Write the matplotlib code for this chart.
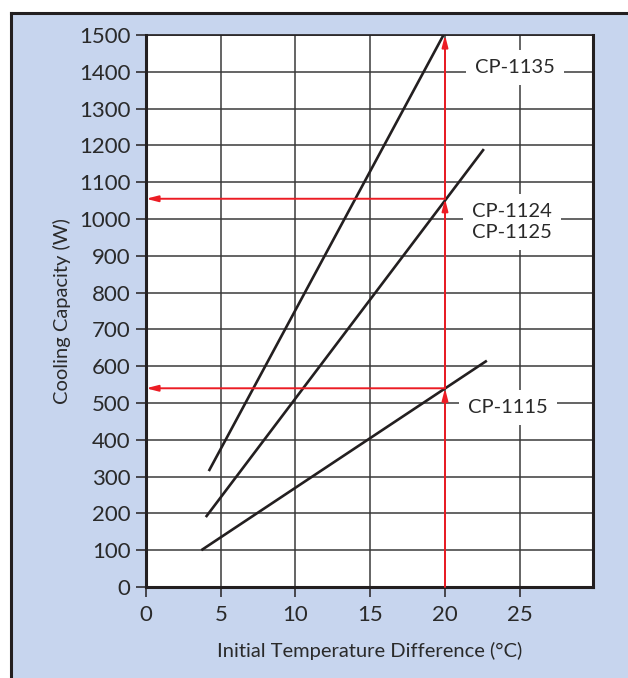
import matplotlib.pyplot as plt
from matplotlib.patches import Rectangle
from matplotlib.lines import Line2D

# chart values
models = ['CP-1115', 'CP-1124', 'CP-1135']
x_start = [3.7, 4.0, 4.2]
x_end = [22.8, 22.6, 19.9]
w_start = [100, 190, 315]
w_end = [615, 1190, 1500]

delta_t = 20
read_w = [540, 1055]

labels = ['CP-1135', 'CP-1124\nCP-1125', 'CP-1115']
label_x = [24.7, 24.5, 24.2]
label_y = [1412, 992, 488]

xticks = [0, 5, 10, 15, 20, 25]
yticks = list(range(0, 1501, 100))

plt.rcParams['font.family'] = ['Lato', 'DejaVu Sans']

bg = '#c7d5ee'
red = '#ec1c24'
ink = '#231f20'

fig = plt.figure(figsize=(6.28, 6.78), dpi=100)
fig.patches.append(Rectangle((11/628, 0), 1, 1 - 13/678, transform=fig.transFigure,
                             facecolor=bg, edgecolor='none', zorder=-2))
fig.lines.append(Line2D([11/628, 11/628], [0, 1 - 13/678], transform=fig.transFigure,
                        color=ink, lw=2.2, zorder=-1))
fig.lines.append(Line2D([11/628, 1], [1 - 13/678, 1 - 13/678], transform=fig.transFigure,
                        color=ink, lw=2.2, zorder=-1))

ax = fig.add_axes([146/628, 1 - 587/678, (593 - 146)/628, (587 - 35)/678])
ax.set_facecolor('white')
ax.set_xlim(0, 29.9)
ax.set_ylim(0, 1500)
ax.set_xticks(xticks)
ax.set_yticks(yticks)
ax.grid(True, color='#3a3a3a', lw=1.1)
ax.set_axisbelow(True)
for s in ax.spines.values():
    s.set_linewidth(2.2)
    s.set_color(ink)
ax.spines['top'].set_linewidth(1.2)
ax.tick_params(direction='out', length=7, width=1.1, color=ink,
               labelsize=16, labelcolor='#2a2a2a')
ax.tick_params(axis='y', pad=4)
ax.tick_params(axis='x', pad=6)

for i in range(len(models)):
    ax.plot([x_start[i], x_end[i]], [w_start[i], w_end[i]], color=ink, lw=1.9,
            solid_capstyle='butt', zorder=3)

arrow = dict(arrowstyle='-|>,head_length=0.7,head_width=0.18', color=red, lw=1.4,
             shrinkA=0, shrinkB=0)
stops = [0] + read_w + [1500]
for a, b in zip(stops[:-1], stops[1:]):
    ax.annotate('', xy=(delta_t, b), xytext=(delta_t, a), arrowprops=arrow, zorder=4)
for w in read_w:
    ax.annotate('', xy=(0, w), xytext=(delta_t, w), arrowprops=arrow, zorder=4)

for t, lx, ly in zip(labels, label_x, label_y):
    ax.text(lx, ly, t, ha='center', va='center', fontsize=14.5, color='#2a2a2a',
            linespacing=1.3, zorder=5,
            bbox=dict(boxstyle='square,pad=0.45', facecolor='white', edgecolor='none'))

ax.set_xlabel('Initial Temperature Difference (°C)', fontsize=14.5, color='#2a2a2a',
              labelpad=12)
ax.set_ylabel('Cooling Capacity (W)', fontsize=14.5, color='#2a2a2a', labelpad=6)

fig.savefig('out.png', dpi=100)
